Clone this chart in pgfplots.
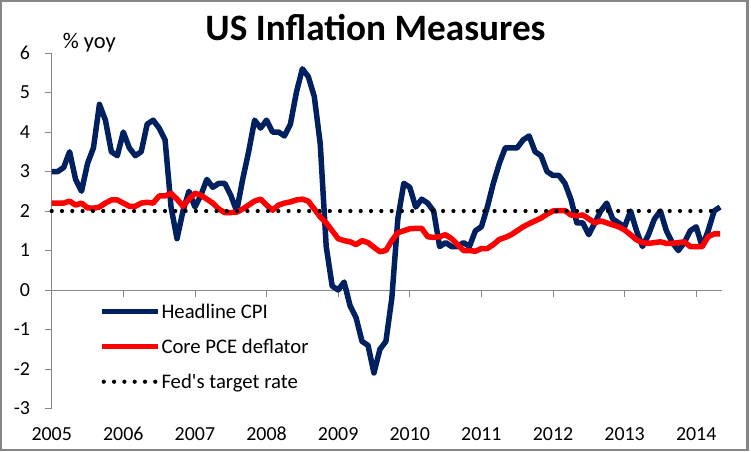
\documentclass[border=0pt]{standalone}
\usepackage{pgfplots}
\pgfplotsset{compat=1.18}
\usepackage{pgfplotstable}
\usepackage{fontspec}
\setmainfont{Carlito}
\definecolor{cpiblue}{RGB}{0,32,96}
\definecolor{axgray}{RGB}{134,134,134}

\pgfplotstableread{
x cpi pce
2005.0000 3.0 2.20
2005.0833 3.0 2.20
2005.1667 3.1 2.20
2005.2500 3.5 2.25
2005.3333 2.8 2.15
2005.4167 2.5 2.20
2005.5000 3.2 2.08
2005.5833 3.6 2.07
2005.6667 4.7 2.10
2005.7500 4.3 2.20
2005.8333 3.5 2.28
2005.9167 3.4 2.28
2006.0000 4.0 2.20
2006.0833 3.6 2.12
2006.1667 3.4 2.12
2006.2500 3.5 2.20
2006.3333 4.2 2.22
2006.4167 4.3 2.20
2006.5000 4.1 2.38
2006.5833 3.8 2.38
2006.6667 2.1 2.45
2006.7500 1.3 2.30
2006.8333 2.0 2.12
2006.9167 2.5 2.30
2007.0000 2.1 2.45
2007.0833 2.4 2.40
2007.1667 2.8 2.30
2007.2500 2.6 2.20
2007.3333 2.7 2.05
2007.4167 2.7 1.96
2007.5000 2.4 1.96
2007.5833 2.0 1.97
2007.6667 2.8 2.05
2007.7500 3.5 2.15
2007.8333 4.3 2.25
2007.9167 4.1 2.30
2008.0000 4.3 2.15
2008.0833 4.0 2.02
2008.1667 4.0 2.15
2008.2500 3.9 2.20
2008.3333 4.2 2.23
2008.4167 5.0 2.28
2008.5000 5.6 2.30
2008.5833 5.4 2.25
2008.6667 4.9 2.05
2008.7500 3.7 1.85
2008.8333 1.1 1.70
2008.9167 0.1 1.50
2009.0000 0.0 1.30
2009.0833 0.2 1.25
2009.1667 -0.4 1.22
2009.2500 -0.7 1.15
2009.3333 -1.3 1.25
2009.4167 -1.4 1.20
2009.5000 -2.1 1.08
2009.5833 -1.5 0.97
2009.6667 -1.3 1.00
2009.7500 -0.2 1.25
2009.8333 1.8 1.45
2009.9167 2.7 1.50
2010.0000 2.6 1.55
2010.0833 2.1 1.56
2010.1667 2.3 1.56
2010.2500 2.2 1.35
2010.3333 2.0 1.33
2010.4167 1.1 1.35
2010.5000 1.2 1.40
2010.5833 1.1 1.30
2010.6667 1.1 1.15
2010.7500 1.2 1.00
2010.8333 1.1 1.00
2010.9167 1.5 0.98
2011.0000 1.6 1.05
2011.0833 2.1 1.05
2011.1667 2.7 1.15
2011.2500 3.2 1.28
2011.3333 3.6 1.33
2011.4167 3.6 1.40
2011.5000 3.6 1.50
2011.5833 3.8 1.60
2011.6667 3.9 1.68
2011.7500 3.5 1.75
2011.8333 3.4 1.82
2011.9167 3.0 1.92
2012.0000 2.9 2.00
2012.0833 2.9 2.01
2012.1667 2.7 2.01
2012.2500 2.3 1.90
2012.3333 1.7 1.88
2012.4167 1.7 1.90
2012.5000 1.4 1.80
2012.5833 1.7 1.70
2012.6667 2.0 1.75
2012.7500 2.2 1.70
2012.8333 1.8 1.65
2012.9167 1.7 1.60
2013.0000 1.6 1.52
2013.0833 2.0 1.40
2013.1667 1.5 1.27
2013.2500 1.1 1.20
2013.3333 1.4 1.18
2013.4167 1.8 1.20
2013.5000 2.0 1.22
2013.5833 1.5 1.18
2013.6667 1.2 1.18
2013.7500 1.0 1.20
2013.8333 1.2 1.22
2013.9167 1.5 1.10
2014.0000 1.6 1.10
2014.0833 1.1 1.10
2014.1667 1.5 1.35
2014.2500 2.0 1.42
2014.3333 2.1 1.42
}\datatable

\pgfplotsset{
  longline/.style={legend image code/.code={\draw[##1] (0bp,0bp) -- (56bp,0bp);}},
  dotline/.style={legend image code/.code={\draw[##1] (2bp,0bp) -- (54bp,0bp);}},
}

\begin{document}
\begin{tikzpicture}
\begin{axis}[
  at={(0,0)}, anchor=south west,
  scale only axis, width=670.3bp, height=355.5bp,
  xmin=2005, xmax=2014.36, ymin=-3, ymax=6,
  axis y line*=left, axis x line*=bottom,
  x axis line style={draw=none},
  y axis line style={axgray, line width=0.8bp},
  ytick={-3,-2,...,6},
  xtick={2005,2006,...,2014},
  xtick style={draw=none},
  ytick style={axgray, line width=0.8bp},
  tick align=outside,
  major tick length=7bp,
  /pgf/number format/assume math mode=true,
  /pgf/number format/1000 sep={},
  ticklabel style={font=\fontsize{20}{24}\selectfont, inner sep=0pt},
  yticklabel style={anchor=east, xshift=-14.5bp},
  xticklabel style={anchor=base, yshift=-25bp},
  clip=false,
  legend cell align=left,
  legend style={draw=none, fill=none, at={(0.0706,0.302)}, anchor=north west,
    inner sep=0pt, outer sep=0pt, font=\fontsize{20.8}{24}\selectfont,
    row sep=13.8bp, column sep=1bp,
    nodes={inner sep=0pt, text height=17.2bp, text depth=4bp}},
]
\draw[axgray, line width=0.8bp] (axis cs:2005,0) -- (axis cs:2014.36,0);
\pgfplotsinvokeforeach{2006,2007,...,2014}{
  \draw[axgray, line width=0.8bp] (axis cs:#1,0) -- ++(0bp,-7bp);
}
\addplot[cpiblue, line width=5.5bp, line join=round, longline]
  table[x=x, y=cpi]{\datatable};
\addlegendentry{Headline CPI}
\addplot[red, line width=5.5bp, line join=round, longline]
  table[x=x, y=pce]{\datatable};
\addlegendentry{Core PCE deflator}
\addplot[black, line width=4.2bp, line cap=round, dash pattern=on 0bp off 10.3bp, dotline]
  coordinates {(2005,2) (2014.3333,2)};
\addlegendentry{Fed\textquotesingle s target rate}
\end{axis}
\node[anchor=base, font=\bfseries\fontsize{37.4}{40}\selectfont, inner sep=0pt]
  at (323.8bp,367.8bp) {US Inflation Measures};
\node[anchor=base west, font=\fontsize{22.5}{26}\selectfont, inner sep=0pt]
  at (11bp,360.2bp) {\% yoy};
\draw[axgray, line width=2.5bp] (-50.45bp,-41.5bp) rectangle (696bp,407.25bp);
\pgfresetboundingbox
\path[use as bounding box] (-51.7bp,-43.5bp) rectangle (699.3bp,408.5bp);
\end{tikzpicture}
\end{document}
